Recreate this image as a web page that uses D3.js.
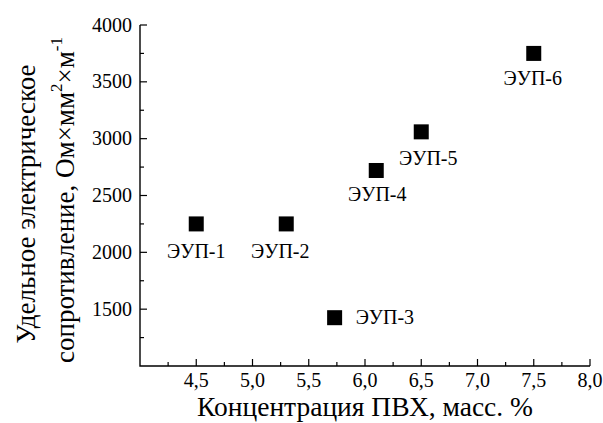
<!DOCTYPE html>
<html>
<head>
<meta charset="utf-8">
<script src="https://cdn.jsdelivr.net/npm/d3@7"></script>
<style>
body { margin: 0; background: #fff; }
svg text { font-family: "Liberation Serif", "DejaVu Serif", "Times New Roman", serif; fill: #000; }
</style>
</head>
<body>
<div id="main"></div>
<script>
// samples and their values
var names = ["ЭУП-1", "ЭУП-2", "ЭУП-3", "ЭУП-4", "ЭУП-5", "ЭУП-6"];
var pvc = [4.5, 5.3, 5.73, 6.1, 6.5, 7.5];
var resist = [2250, 2250, 1425, 2720, 3060, 3750];

var xTicks = [4.5, 5.0, 5.5, 6.0, 6.5, 7.0, 7.5, 8.0];
var yTicks = [1500, 2000, 2500, 3000, 3500, 4000];

var data = names.map((n, i) => ({name: n, x: pvc[i], y: resist[i]}));

// label offsets (px) from each marker
var labelPos = {
  "ЭУП-1": [0, 34], "ЭУП-2": [-6, 34], "ЭУП-3": [21, 6],
  "ЭУП-4": [1, 31], "ЭУП-5": [7, 33], "ЭУП-6": [-1, 32]
};

var serif = '"Liberation Serif", "DejaVu Serif", serif';

var svg = d3.select('#main')
  .append('svg')
  .attr("width", 603)
  .attr("height", 423);

var x = d3.scaleLinear().domain([4, 8]).range([140, 590]);
var y = d3.scaleLinear().domain([1000, 4000]).range([366, 25]);

var g = svg.append('g');

// minor ticks
var xMinor = d3.range(4.25, 8, 0.5);
var yMinor = d3.range(1250, 4000, 500);

g.selectAll('.xminor')
  .data(xMinor)
  .enter()
  .append('line')
  .attr('x1', d => x(d)).attr('x2', d => x(d))
  .attr('y1', y(1000)).attr('y2', y(1000) - 4)
  .style('stroke', '#000').style('stroke-width', 1.2);

g.selectAll('.yminor')
  .data(yMinor)
  .enter()
  .append('line')
  .attr('x1', x(4)).attr('x2', x(4) + 4)
  .attr('y1', d => y(d)).attr('y2', d => y(d))
  .style('stroke', '#000').style('stroke-width', 1.2);

// major ticks
g.selectAll('.xmajor')
  .data(xTicks)
  .enter()
  .append('line')
  .attr('x1', d => x(d)).attr('x2', d => x(d))
  .attr('y1', y(1000)).attr('y2', y(1000) - 7)
  .style('stroke', '#000').style('stroke-width', 1.2);

g.selectAll('.ymajor')
  .data(yTicks)
  .enter()
  .append('line')
  .attr('x1', x(4)).attr('x2', x(4) + 7)
  .attr('y1', d => y(d)).attr('y2', d => y(d))
  .style('stroke', '#000').style('stroke-width', 1.2);

// axis lines
g.append('path')
  .attr('d', 'M' + x(4) + ',' + y(4000) + 'V' + y(1000) + 'H' + x(8))
  .style('fill', 'none').style('stroke', '#000').style('stroke-width', 1.4);

// tick labels
g.selectAll('.xlab')
  .data(xTicks)
  .enter()
  .append('text')
  .attr('x', d => x(d))
  .attr('y', 387)
  .attr('text-anchor', 'middle')
  .style('font-family', serif)
  .style('font-size', '20px')
  .text(d => d.toFixed(1).replace('.', ','));

g.selectAll('.ylab')
  .data(yTicks)
  .enter()
  .append('text')
  .attr('x', 132)
  .attr('y', d => y(d))
  .attr('dy', '0.33em')
  .attr('text-anchor', 'end')
  .style('font-family', serif)
  .style('font-size', '20px')
  .text(d => d);

// points
g.selectAll('rect')
  .data(data)
  .enter()
  .append('rect')
  .attr('x', d => x(d.x) - 7.5)
  .attr('y', d => y(d.y) - 7.5)
  .attr('width', 15)
  .attr('height', 15)
  .style('fill', '#000');

g.selectAll('.plab')
  .data(data)
  .enter()
  .append('text')
  .attr('x', d => x(d.x) + labelPos[d.name][0])
  .attr('y', d => y(d.y) + labelPos[d.name][1])
  .attr('text-anchor', d => d.name == "ЭУП-3" ? 'start' : 'middle')
  .style('font-family', serif)
  .style('font-size', '20px')
  .text(d => d.name);

// axis titles
g.append('text')
  .attr('x', 365)
  .attr('y', 416)
  .attr('text-anchor', 'middle')
  .style('font-family', serif)
  .style('font-size', '27.5px')
  .text("Концентрация ПВХ, масс. %");

g.append('text')
  .attr('transform', 'translate(35,204)rotate(-90)')
  .attr('text-anchor', 'middle')
  .style('font-family', serif)
  .style('font-size', '27px')
  .text("Удельное электрическое");

var t2 = g.append('text')
  .attr('transform', 'translate(74,200)rotate(-90)')
  .attr('text-anchor', 'middle')
  .style('font-family', serif)
  .style('font-size', '27px');
t2.append('tspan').text("сопротивление, Ом×мм");
t2.append('tspan').attr('dy', -12).style('font-size', '17px').text("2");
t2.append('tspan').attr('dy', 12).text("×м");
t2.append('tspan').attr('dy', -12).style('font-size', '17px').text("-1");
</script>
</body>
</html>
